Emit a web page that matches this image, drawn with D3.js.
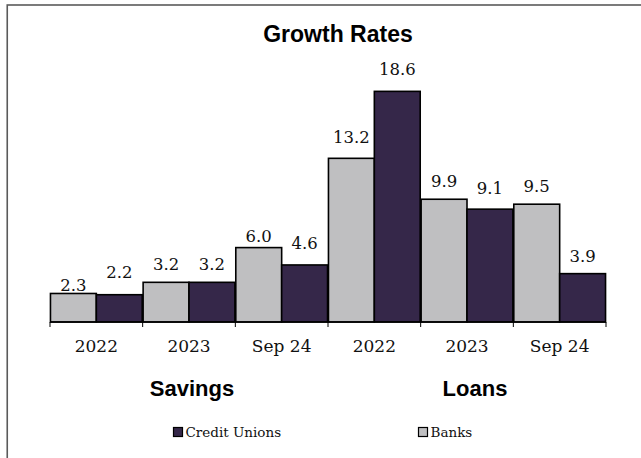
<!DOCTYPE html>
<html>
<head>
<meta charset="utf-8">
<script src="https://cdn.jsdelivr.net/npm/d3@7/dist/d3.min.js"></script>
<style>
  html, body { margin: 0; padding: 0; background: #fff; }
  svg { display: block; }
</style>
</head>
<body>
<svg id="chart" width="641" height="458"></svg>
<script>
// Growth rates (%) for banks and credit unions, savings and loans
const periods = ["2022", "2023", "Sep 24", "2022", "2023", "Sep 24"];
const sections = ["Savings", "Loans"];
const seriesNames = ["Banks", "Credit Unions"];
const banks = [2.3, 3.2, 6.0, 13.2, 9.9, 9.5];
const creditUnions = [2.2, 3.2, 4.6, 18.6, 9.1, 3.9];

// vertical gap (px) between each bar top and its value label baseline
const banksLabelLift = [2, 12, 6, 15, 12, 12];
const cuLabelLift = [17, 12, 16, 16, 15, 12];

const colors = { "Banks": "#bfbfc1", "Credit Unions": "#352749" };
const serif = "'DejaVu Serif', 'Liberation Serif', serif";
const sans = "'Liberation Sans', Arial, sans-serif";

const svg = d3.select("#chart");

// outer frame (open to the right and bottom edges)
svg.append("rect")
  .attr("x", 7.25).attr("y", 5)
  .attr("width", 700).attr("height", 500)
  .attr("fill", "none")
  .attr("stroke", "#5a5a5a")
  .attr("stroke-width", 1.6);

const left = 50, right = 606, baseY = 322, topY = 74;

const x0 = d3.scaleBand()
  .domain(d3.range(periods.length))
  .range([left, right])
  .paddingInner(0).paddingOuter(0);

const x1 = d3.scaleBand()
  .domain(seriesNames)
  .range([0, x0.bandwidth()])
  .paddingInner(0)
  .paddingOuter(0.01);

const y = d3.scaleLinear().domain([0, 20]).range([baseY, topY]);

const rows = periods.map((p, i) => ({
  i, period: p,
  values: [
    { name: "Banks", v: banks[i], lift: banksLabelLift[i] },
    { name: "Credit Unions", v: creditUnions[i], lift: cuLabelLift[i] }
  ]
}));

// title
svg.append("text")
  .attr("x", 338).attr("y", 42)
  .attr("text-anchor", "middle")
  .attr("font-family", sans)
  .attr("font-weight", "bold")
  .attr("font-size", 23)
  .attr("fill", "#000")
  .text("Growth Rates");

// bars
const groups = svg.append("g").selectAll("g")
  .data(rows).join("g")
  .attr("transform", d => `translate(${x0(d.i)},0)`);

groups.selectAll("rect")
  .data(d => d.values).join("rect")
  .attr("x", d => x1(d.name))
  .attr("y", d => y(d.v))
  .attr("width", x1.bandwidth())
  .attr("height", d => y(0) - y(d.v))
  .attr("fill", d => colors[d.name])
  .attr("stroke", "#000")
  .attr("stroke-width", 1.6);

// value labels
groups.selectAll("text.val")
  .data(d => d.values).join("text")
  .attr("class", "val")
  .attr("x", d => x1(d.name) + x1.bandwidth() / 2)
  .attr("y", d => y(d.v) - d.lift)
  .attr("text-anchor", "middle")
  .attr("font-family", serif)
  .attr("font-size", 16.5)
  .attr("fill", "#111")
  .text(d => d.v.toFixed(1));

// category axis
const axis = d3.axisBottom(x0)
  .tickFormat(i => periods[i])
  .tickSize(0)
  .tickPadding(0);

const gx = svg.append("g")
  .attr("transform", `translate(0,${baseY})`)
  .call(axis);
gx.select(".domain").remove();
gx.selectAll("text")
  .attr("dy", 0)
  .attr("y", 30)
  .attr("font-family", serif)
  .attr("font-size", 17)
  .attr("fill", "#111");

// baseline and group separators
gx.append("line")
  .attr("x1", left).attr("x2", right)
  .attr("y1", 0).attr("y2", 0)
  .attr("stroke", "#000").attr("stroke-width", 1.6);
gx.selectAll("line.sep")
  .data(d3.range(periods.length + 1)).join("line")
  .attr("class", "sep")
  .attr("x1", i => i < periods.length ? x0(i) : right)
  .attr("x2", i => i < periods.length ? x0(i) : right)
  .attr("y1", 0).attr("y2", 5)
  .attr("stroke", "#000").attr("stroke-width", 1);

// section titles
svg.selectAll("text.section")
  .data(sections).join("text")
  .attr("class", "section")
  .attr("x", (d, i) => i === 0 ? 192 : 475)
  .attr("y", 396)
  .attr("text-anchor", "middle")
  .attr("font-family", sans)
  .attr("font-weight", "bold")
  .attr("font-size", 22)
  .attr("fill", "#000")
  .text(d => d);

// legend
const legendItems = [
  { name: "Credit Unions", x: 173.5 },
  { name: "Banks", x: 418.5 }
];
const lg = svg.selectAll("g.legend")
  .data(legendItems).join("g")
  .attr("class", "legend")
  .attr("transform", d => `translate(${d.x},427.5)`);
lg.append("rect")
  .attr("width", 9).attr("height", 9)
  .attr("fill", d => colors[d.name])
  .attr("stroke", "#000").attr("stroke-width", 1.2);
lg.append("text")
  .attr("x", 12).attr("y", 9)
  .attr("font-family", serif)
  .attr("font-size", 13.5)
  .attr("fill", "#111")
  .text(d => d.name);
</script>
</body>
</html>
